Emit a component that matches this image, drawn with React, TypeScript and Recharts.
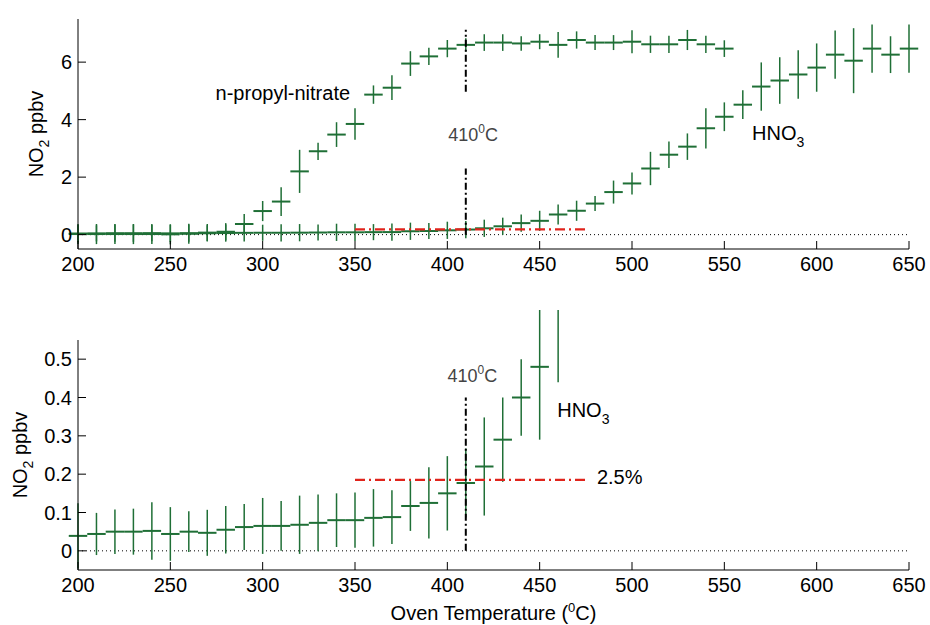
import React from "react"
import { ScatterChart, Scatter, XAxis, YAxis, ErrorBar, ReferenceLine, ReferenceDot } from "recharts"

// oven temperature steps (degC)
const hno3Temp = [200, 210, 220, 230, 240, 250, 260, 270, 280, 290, 300, 310, 320, 330, 340, 350, 360, 370, 380, 390, 400, 410, 420, 430, 440, 450, 460, 470, 480, 490, 500, 510, 520, 530, 540, 550, 560, 570, 580, 590, 600, 610, 620, 630, 640, 650]
const hno3Value = [0.039, 0.044, 0.05, 0.05, 0.052, 0.044, 0.05, 0.047, 0.055, 0.062, 0.065, 0.065, 0.068, 0.073, 0.08, 0.08, 0.086, 0.088, 0.117, 0.125, 0.15, 0.177, 0.22, 0.29, 0.4, 0.48, 0.7, 0.83, 1.08, 1.48, 1.78, 2.3, 2.78, 3.06, 3.7, 4.1, 4.52, 5.15, 5.36, 5.57, 5.81, 6.26, 6.05, 6.47, 6.26, 6.47]
// error bars as drawn in the upper panel
const hno3ErrTop = [0.3, 0.28, 0.3, 0.3, 0.28, 0.3, 0.3, 0.28, 0.3, 0.3, 0.28, 0.3, 0.3, 0.28, 0.3, 0.3, 0.28, 0.3, 0.3, 0.28, 0.3, 0.3, 0.3, 0.3, 0.3, 0.35, 0.35, 0.35, 0.26, 0.4, 0.38, 0.58, 0.46, 0.46, 0.7, 0.5, 0.5, 0.84, 0.81, 0.84, 0.84, 0.84, 1.13, 0.84, 0.64, 0.84]
// error bars in the zoomed lower panel (200..460 only)
const hno3ErrBottom = [0.085, 0.055, 0.058, 0.06, 0.075, 0.07, 0.053, 0.06, 0.062, 0.06, 0.073, 0.065, 0.076, 0.074, 0.07, 0.072, 0.075, 0.07, 0.065, 0.093, 0.097, 0.09, 0.128, 0.11, 0.1, 0.19, 0.26]

const npnTemp = [200, 210, 220, 230, 240, 250, 260, 270, 280, 290, 300, 310, 320, 330, 340, 350, 360, 370, 380, 390, 400, 410, 420, 430, 440, 450, 460, 470, 480, 490, 500, 510, 520, 530, 540, 550]
const npnValue = [0.02, 0.02, 0.02, 0.02, 0.02, 0.01, 0.03, 0.07, 0.1, 0.37, 0.82, 1.15, 2.2, 2.9, 3.48, 3.85, 4.87, 5.11, 5.95, 6.2, 6.47, 6.6, 6.68, 6.68, 6.65, 6.71, 6.6, 6.77, 6.68, 6.68, 6.71, 6.62, 6.62, 6.77, 6.62, 6.47]
const npnErr = [0.35, 0.35, 0.35, 0.35, 0.35, 0.35, 0.35, 0.3, 0.3, 0.35, 0.35, 0.5, 0.75, 0.3, 0.43, 0.55, 0.32, 0.43, 0.43, 0.3, 0.3, 0.23, 0.29, 0.29, 0.25, 0.26, 0.45, 0.3, 0.26, 0.26, 0.4, 0.3, 0.3, 0.35, 0.3, 0.29]

const tempHalfWidth = 5

const xTicks = [200, 250, 300, 350, 400, 450, 500, 550, 600, 650]
const topYTicks = [0, 2, 4, 6]
const bottomYTicks = [0, 0.1, 0.2, 0.3, 0.4, 0.5]

const GREEN = "#1f6f36"
const RED = "#e0241c"
const FONT = '"Liberation Sans", Arial, Helvetica, sans-serif'
const TICK_LEN = 8
const X_GAP = 8
const Y_GAP = 6

const topNpn = npnTemp.map((t, i) => ({ t, v: npnValue[i], ey: npnErr[i], ex: tempHalfWidth }))
const topHno3 = hno3Temp.map((t, i) => ({ t, v: hno3Value[i], ey: hno3ErrTop[i], ex: tempHalfWidth }))
const bottomHno3 = hno3ErrBottom.map((ey, i) => ({ t: hno3Temp[i], v: hno3Value[i], ey, ex: tempHalfWidth }))

const noMarker = () => <g />

// ticks point inward like the matlab axes
function XTick({ x, y, payload }: any) {
  const axisY = y - X_GAP
  return (
    <g>
      <line x1={x} x2={x} y1={axisY} y2={axisY - TICK_LEN} stroke="#000" strokeWidth={1} />
      <text x={x} y={y} dy="0.72em" textAnchor="middle" fontSize={20} fontFamily={FONT} fill="#000">
        {payload.value}
      </text>
    </g>
  )
}

function YTick({ x, y, payload }: any) {
  const axisX = x + Y_GAP
  return (
    <g>
      <line x1={axisX} x2={axisX + TICK_LEN} y1={y} y2={y} stroke="#000" strokeWidth={1} />
      <text x={x} y={y} dy="0.36em" textAnchor="end" fontSize={20} fontFamily={FONT} fill="#000">
        {payload.value}
      </text>
    </g>
  )
}

// baseline of the rotated label sits `offset` px from the left edge
const yLabel = (offset: number) => ({ viewBox }: any) => {
  const cx = viewBox.x + offset
  const cy = viewBox.y + viewBox.height / 2
  return (
    <text x={cx} y={cy} transform={`rotate(-90, ${cx}, ${cy})`} textAnchor="middle" fontSize={20} fontFamily={FONT} fill="#000">
      NO<tspan fontSize={14} dy={6}>2</tspan>
      <tspan dy={-6}> ppbv</tspan>
    </text>
  )
}

const xLabel = ({ viewBox }: any) => (
  <text x={viewBox.x + viewBox.width / 2} y={viewBox.y + 50} textAnchor="middle" fontSize={20} fontFamily={FONT} fill="#000">
    Oven Temperature (<tspan fontSize={13} dy={-8}>0</tspan>
    <tspan dy={8}>C)</tspan>
  </text>
)

const plainText = (txt: string, anchor = "start") => ({ viewBox }: any) => (
  <text x={viewBox.x} y={viewBox.y} textAnchor={anchor} fontSize={20} fontFamily={FONT} fill="#000">
    {txt}
  </text>
)

const hno3Text = ({ viewBox }: any) => (
  <text x={viewBox.x} y={viewBox.y} fontSize={20} fontFamily={FONT} fill="#000">
    HNO<tspan fontSize={14} dy={7}>3</tspan>
  </text>
)

const degText = ({ viewBox }: any) => (
  <text x={viewBox.x} y={viewBox.y} textAnchor="middle" fontSize={18} fontFamily={FONT} fill="#444">
    410<tspan fontSize={12} dy={-8}>0</tspan>
    <tspan dy={8}>C</tspan>
  </text>
)

function Crosses(data: any[]) {
  return (
    <Scatter data={data} isAnimationActive={false} shape={noMarker}>
      <ErrorBar dataKey="ey" direction="y" width={0} stroke={GREEN} strokeWidth={1.5} isAnimationActive={false} />
      <ErrorBar dataKey="ex" direction="x" width={0} stroke={GREEN} strokeWidth={2} isAnimationActive={false} />
    </Scatter>
  )
}

export default function App() {
  return (
    <div style={{ position: "absolute", left: 0, top: 0, width: 930, height: 625, background: "#fff" }}>
      <div style={{ position: "absolute", left: 0, top: 0 }}>
        <ScatterChart width={930} height={310} margin={{ top: 19, right: 21, bottom: 0, left: 0 }}>
          <XAxis type="number" dataKey="t" domain={[200, 650]} ticks={xTicks} allowDataOverflow height={61}
            tickSize={0} tickMargin={X_GAP} tick={XTick} stroke="#000" />
          <YAxis type="number" dataKey="v" domain={[-0.5, 7.5]} ticks={topYTicks} allowDataOverflow width={78}
            tickSize={0} tickMargin={Y_GAP} tick={YTick} stroke="#000" label={{ content: yLabel(43) }} />
          <ReferenceLine y={0} stroke="#000" strokeDasharray="1 3" />
          {Crosses(topHno3)}
          {Crosses(topNpn)}
          <ReferenceLine segment={[{ x: 350, y: 0.185 }, { x: 475, y: 0.185 }]} stroke={RED} strokeWidth={2.2} strokeDasharray="10 4 2 4" />
          <ReferenceLine segment={[{ x: 410, y: 0 }, { x: 410, y: 2.3 }]} stroke="#000" strokeWidth={2} strokeDasharray="7 3 2 3" />
          <ReferenceLine segment={[{ x: 410, y: 4.97 }, { x: 410, y: 7.13 }]} stroke="#000" strokeWidth={2} strokeDasharray="7 3 2 3" />
          <ReferenceDot x={274.5} y={4.7} r={0} stroke="none" label={{ content: plainText("n-propyl-nitrate") }} />
          <ReferenceDot x={565} y={3.3} r={0} stroke="none" label={{ content: hno3Text }} />
          <ReferenceDot x={414} y={3.27} r={0} stroke="none" label={{ content: degText }} />
        </ScatterChart>
      </div>
      <div style={{ position: "absolute", left: 0, top: 310 }}>
        <ScatterChart width={930} height={315} margin={{ top: 30, right: 21, bottom: 0, left: 0 }}>
          <XAxis type="number" dataKey="t" domain={[200, 650]} ticks={xTicks} allowDataOverflow height={55}
            tickSize={0} tickMargin={X_GAP} tick={XTick} stroke="#000" label={{ content: xLabel }} />
          <YAxis type="number" dataKey="v" domain={[-0.05, 0.55]} ticks={bottomYTicks} allowDataOverflow width={78}
            tickSize={0} tickMargin={Y_GAP} tick={YTick} stroke="#000" label={{ content: yLabel(27) }} />
          <ReferenceLine y={0} stroke="#000" strokeDasharray="1 3" />
          {Crosses(bottomHno3)}
          <ReferenceLine segment={[{ x: 350, y: 0.185 }, { x: 475, y: 0.185 }]} stroke={RED} strokeWidth={2.2} strokeDasharray="10 4 2 4" />
          <ReferenceLine segment={[{ x: 410, y: 0 }, { x: 410, y: 0.4 }]} stroke="#000" strokeWidth={2} strokeDasharray="7 3 2 3" />
          <ReferenceDot x={459.5} y={0.35} r={0} stroke="none" label={{ content: hno3Text }} />
          <ReferenceDot x={481} y={0.174} r={0} stroke="none" label={{ content: plainText("2.5%") }} />
          <ReferenceDot x={413.5} y={0.44} r={0} stroke="none" label={{ content: degText }} />
        </ScatterChart>
      </div>
    </div>
  )
}
